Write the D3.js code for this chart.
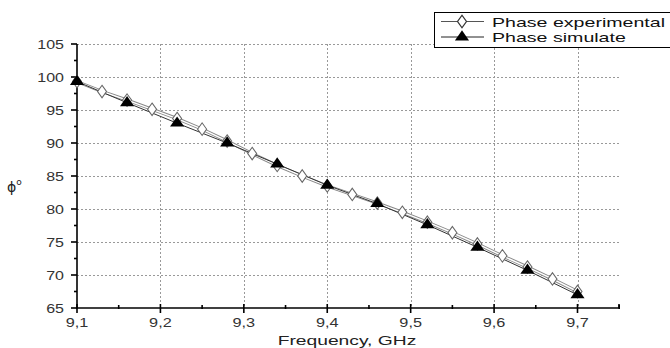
<!DOCTYPE html>
<meta charset="utf-8">
<style>
  body { margin: 0; background: #fff; }
  text { font-family: "Liberation Sans", Arial, sans-serif; }
</style>
<svg width="670" height="348"></svg>
<script src="https://cdn.jsdelivr.net/npm/d3@7"></script>
<script>

var expFreq = [9.10, 9.13, 9.16, 9.19, 9.22, 9.25, 9.28, 9.31, 9.34, 9.37, 9.40,
               9.43, 9.46, 9.49, 9.52, 9.55, 9.58, 9.61, 9.64, 9.67, 9.70];
var expPhase = [99.3, 97.8, 96.5, 95.1, 93.7, 92.1, 90.3, 88.4, 86.6, 85.0, 83.5,
                82.2, 80.9, 79.5, 78.0, 76.4, 74.7, 72.9, 71.2, 69.4, 67.5];
var simFreq = [9.10, 9.16, 9.22, 9.28, 9.34, 9.40, 9.46, 9.52, 9.58, 9.64, 9.70];
var simPhase = [99.3, 96.1, 93.0, 90.0, 86.8, 83.6, 80.8, 77.6, 74.2, 70.7, 67.0];
var xTicks = [9.1, 9.2, 9.3, 9.4, 9.5, 9.6, 9.7];
var yTicks = [65, 70, 75, 80, 85, 90, 95, 100, 105];

var svg = d3.select("svg");

var x = d3.scaleLinear().domain([9.1, 9.7]).range([77, 577.5]);
var y = d3.scaleLinear().domain([65, 105]).range([308, 44]);
var xEnd = 619;

var fmt = function(d) { return d3.format(".1f")(d).replace(".", ","); };

// the source picture is stretched sideways, so stretch the glyphs too
function widen(sel, k) {
  sel.each(function() {
    var w = this.getComputedTextLength();
    d3.select(this).attr("textLength", w * k).attr("lengthAdjust", "spacingAndGlyphs");
  });
}

// grid
var grid = svg.append("g").attr("stroke", "#999").attr("stroke-dasharray", "2,2").attr("stroke-width", 1);
grid.selectAll(".gy").data(yTicks.filter(function(d) { return d > 65; }))
  .enter().append("line")
  .attr("x1", 77).attr("x2", xEnd)
  .attr("y1", function(d) { return Math.round(y(d)) + 0.5; })
  .attr("y2", function(d) { return Math.round(y(d)) + 0.5; });
grid.selectAll(".gx").data(xTicks.slice(1))
  .enter().append("line")
  .attr("y1", 44).attr("y2", 308)
  .attr("x1", function(d) { return Math.round(x(d)) + 0.5; })
  .attr("x2", function(d) { return Math.round(x(d)) + 0.5; });

// axes
var axes = svg.append("g").attr("stroke", "#000").attr("stroke-width", 1.6);
axes.append("line").attr("x1", 77).attr("x2", 77).attr("y1", 44).attr("y2", 308.5);
axes.append("line").attr("x1", 76).attr("x2", xEnd).attr("y1", 308).attr("y2", 308);
axes.append("line").attr("x1", xEnd).attr("x2", xEnd).attr("y1", 308).attr("y2", 304);

axes.selectAll(".ty").data(yTicks).enter().append("line")
  .attr("x1", 71).attr("x2", 77)
  .attr("y1", function(d) { return y(d); }).attr("y2", function(d) { return y(d); });
axes.selectAll(".tym").data(yTicks.slice(0, -1)).enter().append("line")
  .attr("x1", 74).attr("x2", 77)
  .attr("y1", function(d) { return y(d + 2.5); }).attr("y2", function(d) { return y(d + 2.5); });
axes.selectAll(".tx").data(xTicks).enter().append("line")
  .attr("y1", 304).attr("y2", 313)
  .attr("x1", function(d) { return x(d); }).attr("x2", function(d) { return x(d); });
axes.selectAll(".txm").data(xTicks.map(function(d) { return d + 0.05; })).enter().append("line")
  .attr("y1", 305).attr("y2", 309)
  .attr("x1", function(d) { return x(d); }).attr("x2", function(d) { return x(d); });

svg.selectAll(".ly").data(yTicks).enter().append("text")
  .attr("x", 64).attr("y", function(d) { return y(d) + 4.5; })
  .attr("text-anchor", "end").attr("font-size", 12.5).attr("fill", "#333")
  .text(function(d) { return d; })
  .call(widen, 1.28);
svg.selectAll(".lx").data(xTicks).enter().append("text")
  .attr("x", function(d) { return x(d); }).attr("y", 327)
  .attr("text-anchor", "middle").attr("font-size", 12.5).attr("fill", "#333")
  .text(fmt)
  .call(widen, 1.3);

svg.append("text").attr("x", 347).attr("y", 345).attr("text-anchor", "middle")
  .attr("font-size", 13).attr("fill", "#222").text("Frequency, GHz")
  .call(widen, 1.48);
svg.append("text").attr("x", 7).attr("y", 192).attr("font-size", 14).attr("fill", "#222")
  .style("font-family", "'DejaVu Sans'")
  .text("\u03d5").append("tspan").attr("dy", -7).attr("font-size", 9).text("o");

// series
var expData = expFreq.map(function(f, i) { return [f, expPhase[i]]; });
var simData = simFreq.map(function(f, i) { return [f, simPhase[i]]; });
var line = d3.line().x(function(d) { return x(d[0]); }).y(function(d) { return y(d[1]); });

svg.append("path").datum(expData).attr("d", line)
  .attr("fill", "none").attr("stroke", "#888").attr("stroke-width", 3.2);
svg.append("path").datum(expData).attr("d", line)
  .attr("fill", "none").attr("stroke", "#fff").attr("stroke-width", 1.4);
svg.append("path").datum(simData).attr("d", line)
  .attr("fill", "none").attr("stroke", "#333").attr("stroke-width", 1);

var diamond = d3.symbol().type(d3.symbolDiamond).size(45);
var tri = d3.symbol().type(d3.symbolTriangle).size(60);

svg.selectAll(".de").data(expData).enter().append("path")
  .attr("d", diamond)
  .attr("transform", function(d) { return "translate(" + x(d[0]) + "," + y(d[1]) + ") scale(1.25,1)"; })
  .attr("fill", "#fff").attr("stroke", "#666").attr("stroke-width", 0.9);
svg.selectAll(".ts").data(simData).enter().append("path")
  .attr("d", tri)
  .attr("transform", function(d) { return "translate(" + x(d[0]) + "," + y(d[1]) + ") scale(1.2,1)"; })
  .attr("fill", "#000");

// legend
var lg = svg.append("g");
lg.append("rect").attr("x", 434.5).attr("y", 12.5).attr("width", 250).attr("height", 35)
  .attr("fill", "#fff").attr("stroke", "#000").attr("stroke-width", 1);
lg.append("line").attr("x1", 441).attr("x2", 484).attr("y1", 21.5).attr("y2", 21.5).attr("stroke", "#555");
lg.append("line").attr("x1", 441).attr("x2", 484).attr("y1", 37).attr("y2", 37).attr("stroke", "#222");
lg.append("path").attr("d", diamond).attr("transform", "translate(462,21.5) scale(1.25,1)")
  .attr("fill", "#fff").attr("stroke", "#333").attr("stroke-width", 1);
lg.append("path").attr("d", tri).attr("transform", "translate(462,37) scale(1.2,1)").attr("fill", "#000");
lg.append("text").attr("x", 492).attr("y", 26.5).attr("font-size", 13.5).attr("fill", "#111")
  .text("Phase experimental").call(widen, 1.45);
lg.append("text").attr("x", 492).attr("y", 42).attr("font-size", 13.5).attr("fill", "#111")
  .text("Phase simulate").call(widen, 1.45);

</script>
